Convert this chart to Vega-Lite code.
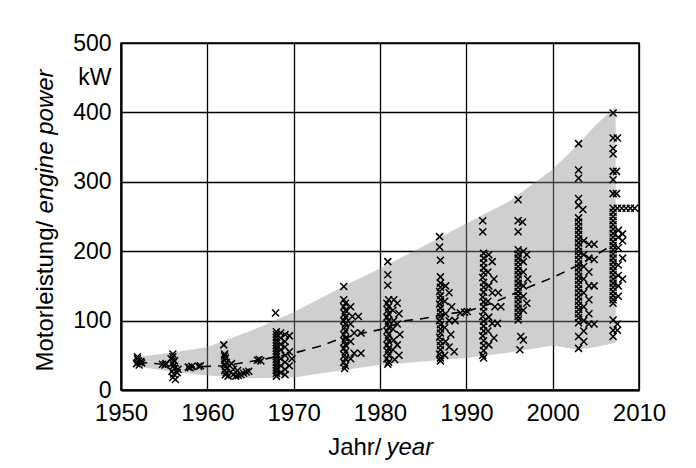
{
  "$schema": "https://vega.github.io/schema/vega-lite/v6.json",
  "width": 518,
  "height": 347,
  "autosize": {"type": "none"},
  "padding": {"left": 121, "top": 43, "right": 57, "bottom": 78},
  "background": "white",
  "config": {
    "font": "Liberation Sans",
    "view": {"stroke": "black", "strokeWidth": 1.5},
    "axis": {
      "labelFont": "Liberation Sans",
      "titleFont": "Liberation Sans",
      "labelColor": "black",
      "titleColor": "black",
      "titleFontWeight": "normal",
      "titleFontSize": 24,
      "labelFontSize": 23,
      "domainColor": "black",
      "domainWidth": 2,
      "gridColor": "black",
      "gridWidth": 1.3,
      "gridOpacity": 1,
      "ticks": false,
      "tickSize": 0,
      "labelOverlap": false,
      "labelFlush": false
    }
  },
  "datasets": {
    "band": [
      {"year": 1952, "lo": 34, "hi": 48},
      {"year": 1956, "lo": 26, "hi": 54},
      {"year": 1960, "lo": 21, "hi": 62},
      {"year": 1965, "lo": 17, "hi": 85},
      {"year": 1970, "lo": 18, "hi": 112},
      {"year": 1976, "lo": 29, "hi": 151},
      {"year": 1980, "lo": 36, "hi": 175},
      {"year": 1985, "lo": 41, "hi": 207},
      {"year": 1990, "lo": 46, "hi": 240},
      {"year": 1995, "lo": 54, "hi": 272},
      {"year": 2000, "lo": 64, "hi": 318},
      {"year": 2003, "lo": 58, "hi": 355},
      {"year": 2005, "lo": 62, "hi": 382},
      {"year": 2007.3, "lo": 68, "hi": 408}
    ],
    "trend": [
      {"year": 1952, "power": 40},
      {"year": 1955, "power": 37},
      {"year": 1958, "power": 33},
      {"year": 1960, "power": 34},
      {"year": 1962, "power": 35},
      {"year": 1965, "power": 41},
      {"year": 1966, "power": 43},
      {"year": 1970, "power": 53},
      {"year": 1973, "power": 63},
      {"year": 1975, "power": 72},
      {"year": 1978, "power": 82},
      {"year": 1980, "power": 87},
      {"year": 1983, "power": 100},
      {"year": 1985, "power": 103},
      {"year": 1988, "power": 110},
      {"year": 1990, "power": 113},
      {"year": 1993, "power": 125},
      {"year": 1997, "power": 147},
      {"year": 2000, "power": 162},
      {"year": 2003, "power": 180},
      {"year": 2006, "power": 202},
      {"year": 2007, "power": 210}
    ],
    "pts": [
      {"year": 1951.9, "power": 48}, {"year": 1951.9, "power": 45}, {"year": 1952, "power": 42}, {"year": 1952.2, "power": 40}, {"year": 1951.8, "power": 38}, {"year": 1952.1, "power": 36}, {"year": 1952.3, "power": 41}, {"year": 1952.4, "power": 39},
      {"year": 1954.8, "power": 37}, {"year": 1955.1, "power": 36}, {"year": 1955.2, "power": 38},
      {"year": 1956, "power": 52}, {"year": 1956, "power": 48}, {"year": 1955.8, "power": 45}, {"year": 1956.2, "power": 42}, {"year": 1956, "power": 39}, {"year": 1956.1, "power": 35}, {"year": 1956.2, "power": 31}, {"year": 1955.9, "power": 27}, {"year": 1956.1, "power": 23}, {"year": 1956, "power": 18}, {"year": 1956.3, "power": 15}, {"year": 1956.5, "power": 25}, {"year": 1956.6, "power": 30},
      {"year": 1957.8, "power": 33}, {"year": 1958, "power": 32}, {"year": 1959, "power": 34}, {"year": 1959.2, "power": 35}, {"year": 1958.2, "power": 34},
      {"year": 1961.9, "power": 65}, {"year": 1962, "power": 52}, {"year": 1962, "power": 49}, {"year": 1962.1, "power": 46}, {"year": 1962, "power": 43}, {"year": 1962.2, "power": 40}, {"year": 1962, "power": 37}, {"year": 1962.1, "power": 34}, {"year": 1962.3, "power": 31}, {"year": 1962, "power": 28}, {"year": 1962.2, "power": 25}, {"year": 1962.1, "power": 22}, {"year": 1962.4, "power": 20}, {"year": 1962.8, "power": 38}, {"year": 1963, "power": 30}, {"year": 1963, "power": 22}, {"year": 1963.3, "power": 20}, {"year": 1963.6, "power": 21}, {"year": 1963.9, "power": 22}, {"year": 1964.2, "power": 24}, {"year": 1964.5, "power": 26}, {"year": 1964.8, "power": 27}, {"year": 1963.5, "power": 28},
      {"year": 1965.8, "power": 43}, {"year": 1966, "power": 44}, {"year": 1966.2, "power": 42},
      {"year": 1967.9, "power": 111}, {"year": 1968, "power": 84}, {"year": 1968, "power": 80}, {"year": 1968, "power": 76}, {"year": 1968, "power": 72}, {"year": 1968, "power": 68}, {"year": 1968, "power": 64}, {"year": 1968, "power": 60}, {"year": 1968, "power": 56}, {"year": 1968, "power": 52}, {"year": 1968, "power": 48}, {"year": 1968, "power": 44}, {"year": 1968, "power": 40}, {"year": 1968, "power": 36}, {"year": 1968, "power": 32}, {"year": 1968, "power": 28}, {"year": 1968, "power": 24}, {"year": 1968, "power": 20},
      {"year": 1968.5, "power": 82}, {"year": 1968.5, "power": 75}, {"year": 1968.5, "power": 66}, {"year": 1968.5, "power": 58}, {"year": 1968.5, "power": 45}, {"year": 1968.5, "power": 35}, {"year": 1968.5, "power": 25},
      {"year": 1969, "power": 80}, {"year": 1969, "power": 70}, {"year": 1969, "power": 62}, {"year": 1969, "power": 50}, {"year": 1969, "power": 40}, {"year": 1969, "power": 30}, {"year": 1969, "power": 22}, {"year": 1969.5, "power": 78}, {"year": 1969.5, "power": 55}, {"year": 1969.8, "power": 45}, {"year": 1969.5, "power": 35},
      {"year": 1975.8, "power": 149}, {"year": 1975.8, "power": 130}, {"year": 1976, "power": 125}, {"year": 1975.8, "power": 120}, {"year": 1976, "power": 115}, {"year": 1975.9, "power": 110}, {"year": 1976, "power": 105}, {"year": 1975.8, "power": 100}, {"year": 1976, "power": 95}, {"year": 1975.9, "power": 90}, {"year": 1976, "power": 85}, {"year": 1975.8, "power": 80}, {"year": 1976, "power": 75}, {"year": 1975.9, "power": 70}, {"year": 1976, "power": 65}, {"year": 1975.8, "power": 60}, {"year": 1976, "power": 55}, {"year": 1975.9, "power": 50}, {"year": 1976, "power": 45}, {"year": 1975.8, "power": 40}, {"year": 1976, "power": 35}, {"year": 1975.9, "power": 31},
      {"year": 1976.6, "power": 120}, {"year": 1976.8, "power": 106}, {"year": 1977.5, "power": 106}, {"year": 1976.6, "power": 95}, {"year": 1977, "power": 82}, {"year": 1977.8, "power": 82}, {"year": 1976.6, "power": 70}, {"year": 1977, "power": 53}, {"year": 1977.8, "power": 53}, {"year": 1976.6, "power": 45},
      {"year": 1980.9, "power": 185}, {"year": 1980.9, "power": 166}, {"year": 1980.9, "power": 151}, {"year": 1981, "power": 130}, {"year": 1980.8, "power": 125}, {"year": 1981, "power": 120}, {"year": 1980.9, "power": 115}, {"year": 1981, "power": 110}, {"year": 1980.8, "power": 105}, {"year": 1981, "power": 100}, {"year": 1980.9, "power": 95}, {"year": 1981, "power": 90}, {"year": 1980.8, "power": 85}, {"year": 1981, "power": 80}, {"year": 1980.9, "power": 75}, {"year": 1981, "power": 70}, {"year": 1980.8, "power": 65}, {"year": 1981, "power": 60}, {"year": 1980.9, "power": 55}, {"year": 1981, "power": 50}, {"year": 1980.8, "power": 45}, {"year": 1981, "power": 40}, {"year": 1980.9, "power": 37},
      {"year": 1981.6, "power": 130}, {"year": 1982, "power": 125}, {"year": 1981.5, "power": 115}, {"year": 1982.2, "power": 110}, {"year": 1981.6, "power": 100}, {"year": 1982, "power": 95}, {"year": 1981.5, "power": 88}, {"year": 1982.3, "power": 80}, {"year": 1981.6, "power": 72}, {"year": 1982, "power": 65}, {"year": 1981.5, "power": 58}, {"year": 1982.2, "power": 50}, {"year": 1981.7, "power": 44},
      {"year": 1986.9, "power": 221}, {"year": 1986.9, "power": 206}, {"year": 1987, "power": 187}, {"year": 1987, "power": 163}, {"year": 1987, "power": 154}, {"year": 1987, "power": 148}, {"year": 1986.9, "power": 142}, {"year": 1987, "power": 136}, {"year": 1987, "power": 130}, {"year": 1986.9, "power": 124}, {"year": 1987, "power": 118}, {"year": 1987, "power": 112}, {"year": 1987, "power": 106}, {"year": 1986.9, "power": 100}, {"year": 1987, "power": 94}, {"year": 1987, "power": 88}, {"year": 1987, "power": 82}, {"year": 1986.9, "power": 76}, {"year": 1987, "power": 70}, {"year": 1987, "power": 64}, {"year": 1987, "power": 58}, {"year": 1986.9, "power": 52}, {"year": 1987, "power": 46}, {"year": 1987, "power": 42},
      {"year": 1987.6, "power": 150}, {"year": 1988, "power": 140}, {"year": 1987.5, "power": 128}, {"year": 1988.3, "power": 120}, {"year": 1987.6, "power": 110}, {"year": 1988, "power": 100}, {"year": 1988.7, "power": 100}, {"year": 1987.5, "power": 90}, {"year": 1988.2, "power": 80}, {"year": 1987.6, "power": 70}, {"year": 1988, "power": 62}, {"year": 1988.6, "power": 55}, {"year": 1987.5, "power": 50},
      {"year": 1989.3, "power": 111}, {"year": 1989.8, "power": 112}, {"year": 1990.1, "power": 113},
      {"year": 1991.9, "power": 244}, {"year": 1991.9, "power": 228}, {"year": 1992, "power": 197}, {"year": 1992, "power": 190}, {"year": 1992, "power": 183}, {"year": 1992, "power": 176}, {"year": 1992, "power": 169}, {"year": 1991.9, "power": 162}, {"year": 1992, "power": 155}, {"year": 1992, "power": 148}, {"year": 1992, "power": 141}, {"year": 1991.9, "power": 134}, {"year": 1992, "power": 127}, {"year": 1992, "power": 120}, {"year": 1992, "power": 113}, {"year": 1991.9, "power": 106}, {"year": 1992, "power": 99}, {"year": 1992, "power": 92}, {"year": 1992, "power": 85}, {"year": 1991.9, "power": 78}, {"year": 1992, "power": 71}, {"year": 1992, "power": 64}, {"year": 1992, "power": 57}, {"year": 1991.9, "power": 50}, {"year": 1992, "power": 46},
      {"year": 1992.6, "power": 195}, {"year": 1993, "power": 185}, {"year": 1992.5, "power": 170}, {"year": 1993.2, "power": 160}, {"year": 1992.6, "power": 150}, {"year": 1993, "power": 140}, {"year": 1993.7, "power": 140}, {"year": 1992.5, "power": 128}, {"year": 1993.3, "power": 120}, {"year": 1994, "power": 120}, {"year": 1992.6, "power": 105}, {"year": 1993, "power": 96}, {"year": 1993.6, "power": 96}, {"year": 1992.5, "power": 85}, {"year": 1993.2, "power": 75}, {"year": 1992.6, "power": 65},
      {"year": 1996, "power": 274}, {"year": 1996, "power": 244}, {"year": 1996.5, "power": 242}, {"year": 1996, "power": 228}, {"year": 1996, "power": 202}, {"year": 1996, "power": 196}, {"year": 1996, "power": 190}, {"year": 1996, "power": 184}, {"year": 1996, "power": 178}, {"year": 1996, "power": 172}, {"year": 1996, "power": 166}, {"year": 1996, "power": 160}, {"year": 1996, "power": 154}, {"year": 1996, "power": 148}, {"year": 1996, "power": 142}, {"year": 1996, "power": 136}, {"year": 1996, "power": 130}, {"year": 1996, "power": 124}, {"year": 1996, "power": 118}, {"year": 1996, "power": 112}, {"year": 1996, "power": 106}, {"year": 1996, "power": 101},
      {"year": 1996.6, "power": 200}, {"year": 1997, "power": 195}, {"year": 1996.6, "power": 185}, {"year": 1996.6, "power": 170}, {"year": 1997.1, "power": 160}, {"year": 1996.6, "power": 150}, {"year": 1996.6, "power": 135}, {"year": 1997, "power": 125}, {"year": 1996.6, "power": 115}, {"year": 1996.3, "power": 77}, {"year": 1996.6, "power": 72}, {"year": 1996.2, "power": 58},
      {"year": 2003, "power": 355}, {"year": 2003, "power": 317}, {"year": 2003, "power": 305}, {"year": 2003, "power": 276}, {"year": 2003, "power": 266}, {"year": 2003, "power": 248}, {"year": 2003, "power": 242}, {"year": 2003, "power": 236}, {"year": 2003, "power": 230}, {"year": 2003, "power": 224}, {"year": 2003, "power": 218}, {"year": 2003, "power": 212}, {"year": 2003, "power": 206}, {"year": 2003, "power": 200}, {"year": 2003, "power": 194}, {"year": 2003, "power": 188}, {"year": 2003, "power": 182}, {"year": 2003, "power": 176}, {"year": 2003, "power": 170}, {"year": 2003, "power": 164}, {"year": 2003, "power": 158}, {"year": 2003, "power": 152}, {"year": 2003, "power": 146}, {"year": 2003, "power": 140}, {"year": 2003, "power": 134}, {"year": 2003, "power": 128}, {"year": 2003, "power": 122}, {"year": 2003, "power": 116}, {"year": 2003, "power": 110}, {"year": 2003, "power": 104}, {"year": 2003, "power": 97}, {"year": 2003, "power": 77}, {"year": 2003, "power": 60},
      {"year": 2003.5, "power": 260}, {"year": 2003.6, "power": 215}, {"year": 2004.2, "power": 210}, {"year": 2004.8, "power": 210}, {"year": 2003.6, "power": 195}, {"year": 2004.2, "power": 190}, {"year": 2004.8, "power": 188}, {"year": 2003.6, "power": 178}, {"year": 2004.2, "power": 170}, {"year": 2003.6, "power": 160}, {"year": 2004.2, "power": 150}, {"year": 2004.8, "power": 150}, {"year": 2003.6, "power": 140}, {"year": 2004.2, "power": 130}, {"year": 2003.6, "power": 120}, {"year": 2004.2, "power": 110}, {"year": 2003.6, "power": 100}, {"year": 2004.2, "power": 95}, {"year": 2004.8, "power": 95}, {"year": 2003.6, "power": 85}, {"year": 2003.6, "power": 70},
      {"year": 2007, "power": 399}, {"year": 2007, "power": 363}, {"year": 2007.5, "power": 363}, {"year": 2007, "power": 348}, {"year": 2007, "power": 340}, {"year": 2007, "power": 315}, {"year": 2007.4, "power": 315}, {"year": 2007, "power": 303}, {"year": 2007, "power": 283}, {"year": 2007.4, "power": 283}, {"year": 2007, "power": 262}, {"year": 2007.5, "power": 262}, {"year": 2008, "power": 262}, {"year": 2008.5, "power": 262}, {"year": 2009, "power": 262}, {"year": 2009.5, "power": 262},
      {"year": 2007, "power": 256}, {"year": 2007, "power": 250}, {"year": 2007, "power": 244}, {"year": 2007, "power": 238}, {"year": 2007, "power": 232}, {"year": 2007, "power": 226}, {"year": 2007, "power": 220}, {"year": 2007, "power": 214}, {"year": 2007, "power": 208}, {"year": 2007, "power": 202}, {"year": 2007, "power": 196}, {"year": 2007, "power": 190}, {"year": 2007, "power": 184}, {"year": 2007, "power": 178}, {"year": 2007, "power": 172}, {"year": 2007, "power": 166}, {"year": 2007, "power": 160}, {"year": 2007, "power": 154}, {"year": 2007, "power": 148}, {"year": 2007, "power": 142}, {"year": 2007, "power": 136}, {"year": 2007, "power": 130}, {"year": 2007, "power": 125},
      {"year": 2007.6, "power": 230}, {"year": 2008.1, "power": 225}, {"year": 2007.6, "power": 220}, {"year": 2008.1, "power": 215}, {"year": 2007.6, "power": 205}, {"year": 2008.1, "power": 190}, {"year": 2007.6, "power": 180}, {"year": 2007.6, "power": 165}, {"year": 2008.1, "power": 160}, {"year": 2007.6, "power": 150}, {"year": 2007.6, "power": 135}, {"year": 2007, "power": 101}, {"year": 2007, "power": 86}, {"year": 2007.5, "power": 86}, {"year": 2007, "power": 77}, {"year": 2007.5, "power": 95}
    ]
  },
  "layer": [
    {
      "data": {"name": "band"},
      "mark": {"type": "area", "fill": "#8c8c8c", "fillOpacity": 0.42},
      "encoding": {
        "x": {
          "field": "year", "type": "quantitative",
          "scale": {"domain": [1950, 2010], "nice": false, "zero": false},
          "axis": {
            "orient": "bottom",
            "values": [1950, 1960, 1970, 1980, 1990, 2000, 2010],
            "format": "d",
            "labelFontSize": 24,
            "labelPadding": 11,
            "grid": true,
            "title": "Jahr/",
            "titleAlign": "right",
            "titleBaseline": "alphabetic",
            "titleX": 260,
            "titleY": 64
          }
        },
        "y": {
          "field": "lo", "type": "quantitative",
          "scale": {"domain": [0, 500], "nice": false},
          "axis": {
            "orient": "left",
            "values": [0, 100, 200, 300, 400, 500],
            "labelPadding": 10,
            "grid": true,
            "title": "Motorleistung/",
            "titleAngle": -90,
            "titleAlign": "left",
            "titleBaseline": "alphabetic",
            "titleX": -69,
            "titleY": 328
          }
        },
        "y2": {"field": "hi"}
      }
    },
    {
      "data": {"name": "trend"},
      "mark": {"type": "line", "stroke": "black", "strokeWidth": 1.6, "strokeDash": [9, 7]},
      "encoding": {
        "x": {"field": "year", "type": "quantitative", "axis": null},
        "y": {"field": "power", "type": "quantitative", "axis": null}
      }
    },
    {
      "data": {"name": "pts"},
      "mark": {"type": "point", "shape": "M-1,-1L1,1M-1,1L1,-1", "filled": false, "stroke": "black", "strokeWidth": 1.5, "size": 49, "opacity": 1},
      "encoding": {
        "x": {"field": "year", "type": "quantitative", "axis": null},
        "y": {"field": "power", "type": "quantitative", "axis": null}
      }
    },
    {
      "data": {"name": "trend"},
      "mark": {"type": "line", "opacity": 0},
      "encoding": {
        "x": {
          "field": "year", "type": "quantitative",
          "axis": {
            "orient": "bottom",
            "labels": false, "domain": false, "grid": false,
            "title": "year",
            "titleFontStyle": "italic",
            "titleAlign": "left",
            "titleBaseline": "alphabetic",
            "titleX": 265,
            "titleY": 64
          }
        },
        "y": {
          "field": "power", "type": "quantitative",
          "axis": {
            "orient": "left",
            "values": [450],
            "labelExpr": "'kW'",
            "labelPadding": 10,
            "domain": false, "grid": false,
            "title": "engine power",
            "titleFontStyle": "italic",
            "titleAngle": -90,
            "titleAlign": "left",
            "titleBaseline": "alphabetic",
            "titleX": -69,
            "titleY": 170
          }
        }
      }
    }
  ],
  "resolve": {"axis": {"x": "independent", "y": "independent"}}
}
